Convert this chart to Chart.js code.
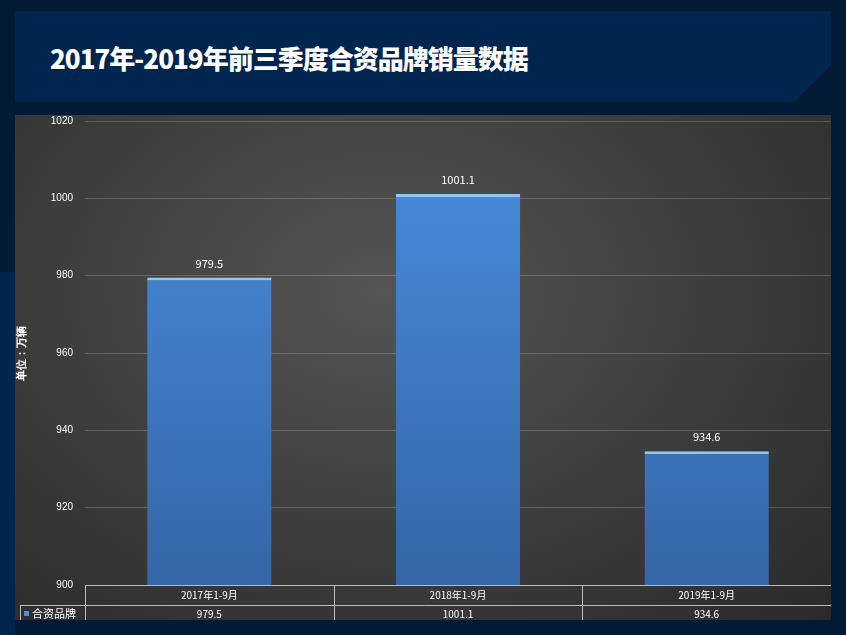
<!DOCTYPE html>
<html><head><meta charset="utf-8">
<script src="https://cdn.jsdelivr.net/npm/chart.js@4/dist/chart.umd.min.js"></script>
<style>
body{margin:0;width:846px;height:635px;background:#021a33;position:relative;overflow:hidden;font-family:"Noto Sans CJK SC",sans-serif}
#head{position:absolute;left:15px;top:11px;width:816px;height:91px;background:#00254f;clip-path:polygon(0 0,100% 0,100% 60%,95.5% 100%,0 100%)}
#head h1{margin:0;position:absolute;left:35px;top:28px;font-size:26px;color:#fff;font-weight:900;letter-spacing:-1px}
#panel{position:absolute;left:15px;top:115px;width:816px;height:505px;background:radial-gradient(ellipse at 45% 35%,#555 0%,#3a3a3a 60%,#2a2a2a 100%)}
#band{position:absolute;left:0;top:272px;width:15px;height:363px;background:#00254f}
#c{position:absolute;left:15px;top:103px}
</style></head><body>
<div id="band"></div>
<div id="head"><h1>2017年-2019年前三季度合资品牌销量数据</h1></div>
<div id="panel"></div>
<canvas id="c" width="816" height="517"></canvas>
<script>
const categories = ['2017年1-9月', '2018年1-9月', '2019年1-9月'];
const seriesName = '合资品牌';
const sales = [979.5, 1001.1, 934.6];
const yTicks = [900, 920, 940, 960, 980, 1000, 1020];

const tablePlugin = {
  id: 'table',
  afterDatasetsDraw(chart) {
    const ctx = chart.ctx, a = chart.chartArea, x = chart.scales.x, y = chart.scales.y;
    const meta = chart.getDatasetMeta(0);
    ctx.save();
    ctx.fillStyle = '#fff';
    ctx.font = '11px "Noto Sans CJK SC", sans-serif';
    ctx.textAlign = 'center';
    meta.data.forEach((b, i) => ctx.fillText(sales[i], b.x, y.getPixelForValue(sales[i]) - 10));
    const r1 = a.bottom + 20, r2 = a.bottom + 40;
    ctx.strokeStyle = '#bbb'; ctx.lineWidth = 1;
    ctx.beginPath();
    ctx.moveTo(a.left, a.bottom + .5); ctx.lineTo(a.right, a.bottom + .5);
    ctx.moveTo(5, r1 + .5); ctx.lineTo(a.right, r1 + .5);
    ctx.moveTo(5.5, r1); ctx.lineTo(5.5, r2);
    const step = (a.right - a.left) / categories.length;
    for (let i = 0; i <= categories.length; i++) {
      const px = Math.round(a.left + step * i) + .5;
      ctx.moveTo(px, a.bottom); ctx.lineTo(px, r2);
    }
    ctx.stroke();
    ctx.textBaseline = 'middle';
    ctx.font = '10px "Noto Sans CJK SC", sans-serif';
    categories.forEach((c, i) => {
      const cx = a.left + step * (i + .5);
      ctx.fillText(c, cx, a.bottom + 10);
      ctx.fillText(sales[i], cx, r1 + 9);
    });
    ctx.fillStyle = '#4a8ee0'; ctx.fillRect(9, r1 + 6, 5, 5);
    ctx.fillStyle = '#fff'; ctx.textAlign = 'left';
    ctx.font = '11px "Noto Sans CJK SC", sans-serif';
    ctx.fillText(seriesName, 17, r1 + 9);
    ctx.restore();
  }
};

new Chart(document.getElementById('c'), {
  type: 'bar',
  data: {
    labels: categories,
    datasets: [{
      label: seriesName,
      data: sales,
      backgroundColor(ctx) {
        const a = ctx.chart.chartArea;
        if (!a) return '#4285d6';
        const g = ctx.chart.ctx.createLinearGradient(0, a.top, 0, a.bottom);
        g.addColorStop(0, '#4a8fe2'); g.addColorStop(1, '#3566a6');
        return g;
      },
      borderColor: '#8fc8f6',
      borderWidth: { top: 3, left: 0, right: 0, bottom: 0 },
      borderSkipped: false,
      categoryPercentage: 1,
      barPercentage: 0.5
    }]
  },
  options: {
    responsive: false,
    animation: false,
    layout: { padding: { top: 0, bottom: 35, right: 0, left: 0 } },
    plugins: { legend: { display: false }, tooltip: { enabled: false } },
    scales: {
      x: { display: false },
      y: {
        min: 900, max: 1020,
        afterFit(s) { s.width = 70; },
        afterBuildTicks(s) { s.ticks = yTicks.map(v => ({ value: v })); },
        grid: { color: 'rgba(255,255,255,0.18)', drawTicks: false },
        border: { display: false },
        ticks: { color: '#fff', padding: 12, font: { size: 10 }, callback: v => String(v) },
        title: { display: true, text: '单位：万辆', color: '#fff', font: { size: 11, weight: 'bold' }, padding: 0 }
      }
    }
  },
  plugins: [tablePlugin]
});
</script>
</body></html>
